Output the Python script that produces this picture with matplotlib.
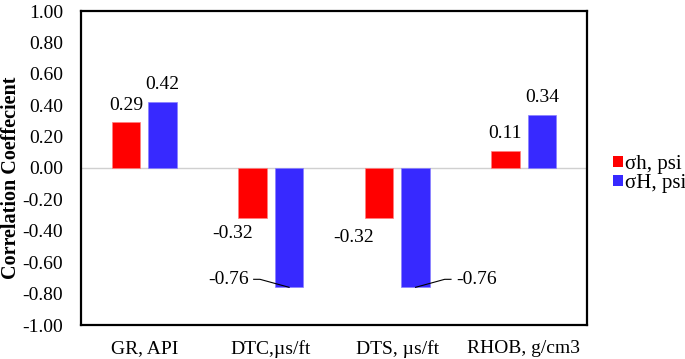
import matplotlib
matplotlib.use('Agg')
import matplotlib.pyplot as plt
import numpy as np
from matplotlib.patches import Patch

plt.rcParams['font.family'] = ['Liberation Serif', 'DejaVu Serif']

categorias = ['GR, API', 'DTC,\u00b5s/ft', 'DTS, \u00b5s/ft', 'RHOB, g/cm3']
sigma_h = [0.29, -0.32, -0.32, 0.11]
sigma_H = [0.42, -0.76, -0.76, 0.34]
series = ['\u03c3h, psi', '\u03c3H, psi']
colores = ['#FF0000', '#3729FF']

fig = plt.figure(figsize=(6.85, 3.59), dpi=100)
ax = fig.add_axes([81 / 685, 34 / 359, 506 / 685, 314 / 359])

x = np.arange(len(categorias))
ancho = 0.225
desp = 0.145
fs = 14

ax.axhline(0, color='#D0D0D0', lw=1.0, zorder=1)
ax.bar(x - desp, sigma_h, ancho, color=colores[0], edgecolor='#FF8080', lw=0.5, zorder=2)
ax.bar(x + desp, sigma_H, ancho, color=colores[1], edgecolor='#8A80FF', lw=0.5, zorder=2)

ax.set_xlim(-0.5, 3.5)
ax.set_ylim(-1.0, 1.0)
yt = np.round(np.arange(-1.0, 1.01, 0.2), 2)
ax.set_yticks(yt)
ax.set_yticklabels([f'{v + 0.0:.2f}' for v in yt])
ax.set_xticks(x)
ax.set_xticklabels(categorias)
ax.tick_params(axis='both', length=0, labelsize=fs)
ax.tick_params(axis='y', pad=13)
ax.tick_params(axis='x', pad=11)
for s in ax.spines.values():
    s.set_linewidth(1.6)

# titulo del eje y
fig.text(1 / 685, 0.506, 'Correlation Coeffecient', rotation=90, ha='left', va='center',
         fontsize=14.5, fontweight='bold')

# etiquetas de valores
for i, v in enumerate(sigma_h):
    if v >= 0:
        ax.text(x[i] - desp, v + 0.11, f'{v:.2f}', ha='center', va='center', fontsize=fs)
    else:
        dx = -0.155 if i == 1 else -0.20
        dy = -0.10 if i == 1 else -0.125
        ax.text(x[i] - desp + dx, v + dy, f'{v:.2f}', ha='center', va='center', fontsize=fs)

for i, v in enumerate(sigma_H):
    if v >= 0:
        ax.text(x[i] + desp, v + 0.11, f'{v:.2f}', ha='center', va='center', fontsize=fs)
    else:
        lado = -1 if i == 1 else 1
        xb = x[i] + desp
        # linea guia
        ax.plot([xb, xb + lado * 0.23, xb + lado * 0.28], [v, v + 0.051, v + 0.051],
                color='black', lw=0.8, zorder=3, clip_on=False)
        ax.text(xb + lado * 0.48, v + 0.051, f'{v:.2f}', ha='center', va='center', fontsize=fs)

manejadores = [Patch(facecolor=c, edgecolor='none') for c in colores]
fig.legend(manejadores, series, loc='center left', bbox_to_anchor=(605 / 685, 1 - 174 / 359),
           frameon=False, fontsize=15, handlelength=0.48, handleheight=0.38,
           handletextpad=0.08, labelspacing=0.0, borderaxespad=0)

fig.savefig('out.png', dpi=100)
